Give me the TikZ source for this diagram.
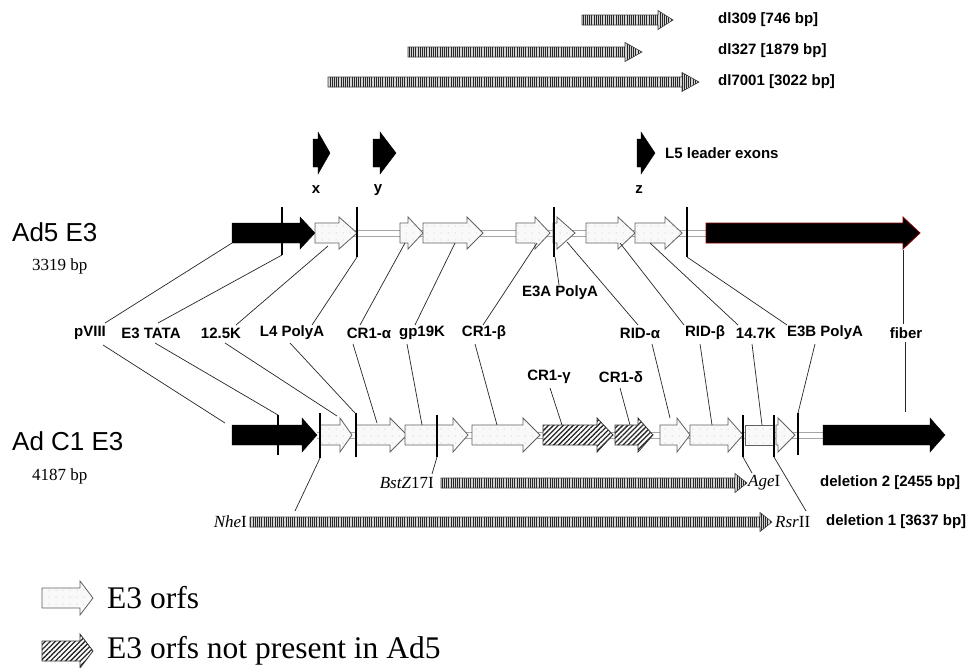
\documentclass[tikz,border=0pt]{standalone}
\usepackage{fontspec}
\setmainfont{Liberation Serif}
\setsansfont{Liberation Sans}
\usetikzlibrary{patterns,patterns.meta}
\newcommand\barw[7]{\path[#1] (#2,#5-#6) -- (#3,#5-#6) -- (#3,#5-#7) -- (#4,#5) -- (#3,#5+#7) -- (#3,#5+#6) -- (#2,#5+#6) -- cycle;}
\begin{document}
\begin{tikzpicture}[x=1pt,y=-1pt,
  lbl/.style={font=\fontsize{15}{17}\selectfont\sffamily\bfseries, inner sep=0pt},
  big/.style={font=\fontsize{26}{28}\selectfont\sffamily, inner sep=0pt, anchor=west},
  bp/.style={font=\fontsize{17}{19}\selectfont\rmfamily, inner sep=0pt, anchor=west},
  rs/.style={font=\fontsize{17}{19}\selectfont\rmfamily, inner sep=0pt},
  leg/.style={font=\fontsize{31.5}{33}\selectfont\rmfamily, inner sep=0pt, anchor=west},
  conn/.style={draw=black!85, line width=0.7pt},
  bar/.style={line width=2.6pt, draw=black},
  thinbar/.style={line width=2pt, draw=black},
  orf/.style={draw=gray!75!black, line width=0.8pt, preaction={fill=gray!5}, pattern={Dots[radius=0.5pt,distance=7pt]}, pattern color=gray!60},
  blk/.style={fill=black, draw=black},
  fib/.style={fill=black, draw=red!55!black, line width=0.8pt},
  hatched/.style={draw=black!80, line width=0.8pt, preaction={fill=white}, pattern={Lines[angle=45,distance=3.5pt,line width=1.3pt]}, pattern color=black!85},
  delarr/.style={draw=gray!50!black, line width=0.6pt, preaction={fill=gray!35}, pattern={Lines[angle=90,distance=2.2pt,line width=0.8pt]}, pattern color=gray!30!black},
  bb/.style={draw=gray!70, line width=0.6pt},
]
\useasboundingbox (0,0) rectangle (973,667);
\fill[white] (0,0) rectangle (973,667);

% ---- top deletions
\barw{delarr}{582}{658}{673}{20}{5}{9.5}
\barw{delarr}{408}{625}{642}{52}{5}{9.5}
\barw{delarr}{328}{682}{699}{82}{5}{9.5}
\node[lbl, anchor=west] (dl309) at (718,20) {dl309 [746 bp]};
\node[lbl, anchor=west] (dl327) at (718,51) {dl327 [1879 bp]};
\node[lbl, anchor=west] (dl7001) at (718,82) {dl7001 [3022 bp]};

% ---- leader exons
\barw{blk}{313}{318}{330}{153}{14}{21}
\barw{blk}{373}{380}{396}{153}{14}{21}
\barw{blk}{637}{641}{655}{153}{14}{21}
\node[lbl] (lx) at (316,190) {x};
\node[lbl] (ly) at (378,190) {y};
\node[lbl] (lz) at (639,190) {z};
\node[lbl, anchor=west] (l5) at (665,153) {L5 leader exons};

% ---- Ad5 E3 row
\node[big] (ad5) at (12,232) {Ad5 E3};
\node[bp] (ad5bp) at (32,266) {3319 bp};
\draw[bb] (315,230.5) -- (706,230.5);
\draw[bb] (315,236) -- (706,236);
\barw{blk}{232}{300}{315}{233}{10}{16}
\barw{orf}{315}{339}{357}{233}{10}{16}
\barw{orf}{400}{408}{423}{233}{10}{16}
\barw{orf}{423}{467}{483}{233}{10}{16}
\barw{orf}{516}{535}{550}{233}{10}{16}
\barw{orf}{553}{557}{575}{233}{10}{16}
\barw{orf}{586}{618}{635}{233}{10}{16}
\barw{orf}{635}{665}{682}{233}{10}{16}
\barw{fib}{706}{903}{920}{233}{10}{16}
\draw[bar] (282,207) -- (282,255);
\draw[bar] (357,207) -- (357,257);
\draw[bar] (554,207) -- (554,257);
\draw[bar] (687,207) -- (687,257);

% ---- labels
\node[lbl] (e3a) at (560,293) {E3A PolyA};
\node[lbl] (pviii) at (90,333) {pVIII};
\node[lbl] (tata) at (151,333) {E3 TATA};
\node[lbl] (k125) at (221,333) {12.5K};
\node[lbl] (l4) at (292,333) {L4 PolyA};
\node[lbl] (cra) at (369,333) {CR1-α};
\node[lbl] (gp) at (422,333) {gp19K};
\node[lbl] (crb) at (484,333) {CR1-β};
\node[lbl] (rida) at (640,333) {RID-α};
\node[lbl] (ridb) at (705,333) {RID-β};
\node[lbl] (k147) at (756,333) {14.7K};
\node[lbl] (e3b) at (825,333) {E3B PolyA};
\node[lbl] (fiber) at (906,333) {fiber};
\node[lbl] (crg) at (549,377) {CR1-γ};
\node[lbl] (crd) at (621,377) {CR1-δ};

% ---- upper connectors
\coordinate (u1) at (232,243); \coordinate (v1) at (105,323);
\coordinate (u2) at (282,255); \coordinate (v2) at (158,323);
\coordinate (u3) at (328,246); \coordinate (v3) at (236,325);
\coordinate (u4) at (357,257); \coordinate (v4) at (312,325);
\coordinate (u5) at (405,243); \coordinate (v5) at (360,325);
\coordinate (u6) at (455,243); \coordinate (v6) at (415,325);
\coordinate (u7) at (537,243); \coordinate (v7) at (483,325);
\coordinate (u8) at (555,257); \coordinate (v8) at (559,285);
\coordinate (u9) at (567,242); \coordinate (v9) at (638,325);
\coordinate (u10) at (620,243); \coordinate (v10) at (684,325);
\coordinate (u11) at (650,243); \coordinate (v11) at (738,325);
\coordinate (u12) at (687,257); \coordinate (v12) at (787,325);
\coordinate (u13) at (903,250); \coordinate (v13) at (903,324);
\foreach \i in {1,...,13} {\draw[conn] (u\i) -- (v\i);}

% ---- Ad C1 E3 row
\node[big] (adc1) at (12,441) {Ad C1 E3};
\node[bp] (adc1bp) at (32,476) {4187 bp};
\draw[bb] (317,432) -- (823,432);
\draw[bb] (317,438) -- (823,438);
\barw{blk}{232}{302}{317}{435}{10}{17}
\barw{orf}{320}{340}{352}{435}{10}{17}
\barw{orf}{356}{390}{407}{435}{10}{17}
\barw{orf}{405}{453}{468}{435}{10}{17}
\barw{orf}{472}{523}{540}{435}{10}{17}
\barw{hatched}{543}{597}{613}{435}{10}{17}
\barw{hatched}{615}{638}{653}{435}{10}{17}
\barw{orf}{660}{677}{690}{435}{10}{17}
\barw{orf}{690}{728}{743}{435}{10}{17}
\path[orf] (745,425) rectangle (773,445);
\barw{orf}{776}{778}{795}{435}{10}{17}
\barw{blk}{823}{930}{945}{435}{10}{17}
\draw[thinbar] (278,415) -- (278,455);
\draw[bar] (320,413) -- (320,458);
\draw[bar] (356,413) -- (356,457);
\draw[bar] (437,415) -- (437,457);
\draw[bar] (743,415) -- (743,457);
\draw[bar] (774,415) -- (774,457);
\draw[bar] (798,413) -- (798,455);

% ---- lower connectors
\coordinate (p1) at (103,345); \coordinate (q1) at (225,423);
\coordinate (p2) at (155,343); \coordinate (q2) at (278,415);
\coordinate (p3) at (225,343); \coordinate (q3) at (337,416);
\coordinate (p4) at (290,343); \coordinate (q4) at (355,413);
\coordinate (p5) at (353,344); \coordinate (q5) at (377,423);
\coordinate (p6) at (407,344); \coordinate (q6) at (422,425);
\coordinate (p7) at (475,344); \coordinate (q7) at (497,425);
\coordinate (p8) at (550,388); \coordinate (q8) at (562,425);
\coordinate (p9) at (620,388); \coordinate (q9) at (630,425);
\coordinate (p10) at (652,344); \coordinate (q10) at (670,418);
\coordinate (p11) at (700,344); \coordinate (q11) at (712,425);
\coordinate (p12) at (752,344); \coordinate (q12) at (762,425);
\coordinate (p13) at (815,344); \coordinate (q13) at (798,413);
\coordinate (p14) at (905,342); \coordinate (q14) at (905,412);
\foreach \i in {1,...,14} {\draw[conn] (p\i) -- (q\i);}

% ---- bottom deletions
\barw{delarr}{441}{735}{747}{483}{5}{9.5}
\barw{delarr}{250}{760}{772}{522}{5}{9.5}
\node[rs, anchor=east] (bst) at (434,483) {\textit{BstZ}17I};
\node[rs, anchor=west] (age) at (748,483) {\textit{Age}I};
\node[rs, anchor=east] (nhe) at (247,522) {\textit{Nhe}I};
\node[rs, anchor=west] (rsr) at (775,522) {\textit{Rsr}II};
\node[lbl, anchor=west] (del2) at (820,483) {deletion 2 [2455 bp]};
\node[lbl, anchor=west] (del1) at (826,522) {deletion 1 [3637 bp]};
\coordinate (b1) at (437,457); \coordinate (c1) at (432,474);
\coordinate (b2) at (743,457); \coordinate (c2) at (752,473);
\coordinate (b3) at (320,458); \coordinate (c3) at (295,511);
\coordinate (b4) at (774,457); \coordinate (c4) at (806,511);
\foreach \i in {1,...,4} {\draw[conn] (b\i) -- (c\i);}

% ---- legend
\barw{orf}{42}{80}{93}{598}{10}{17}
\node[leg] (leg1) at (107,598) {E3 orfs};
\barw{hatched}{42}{80}{93}{651}{10}{17}
\node[leg] (leg2) at (107,651) {E3 orfs not present in Ad5};
\end{tikzpicture}
\end{document}
